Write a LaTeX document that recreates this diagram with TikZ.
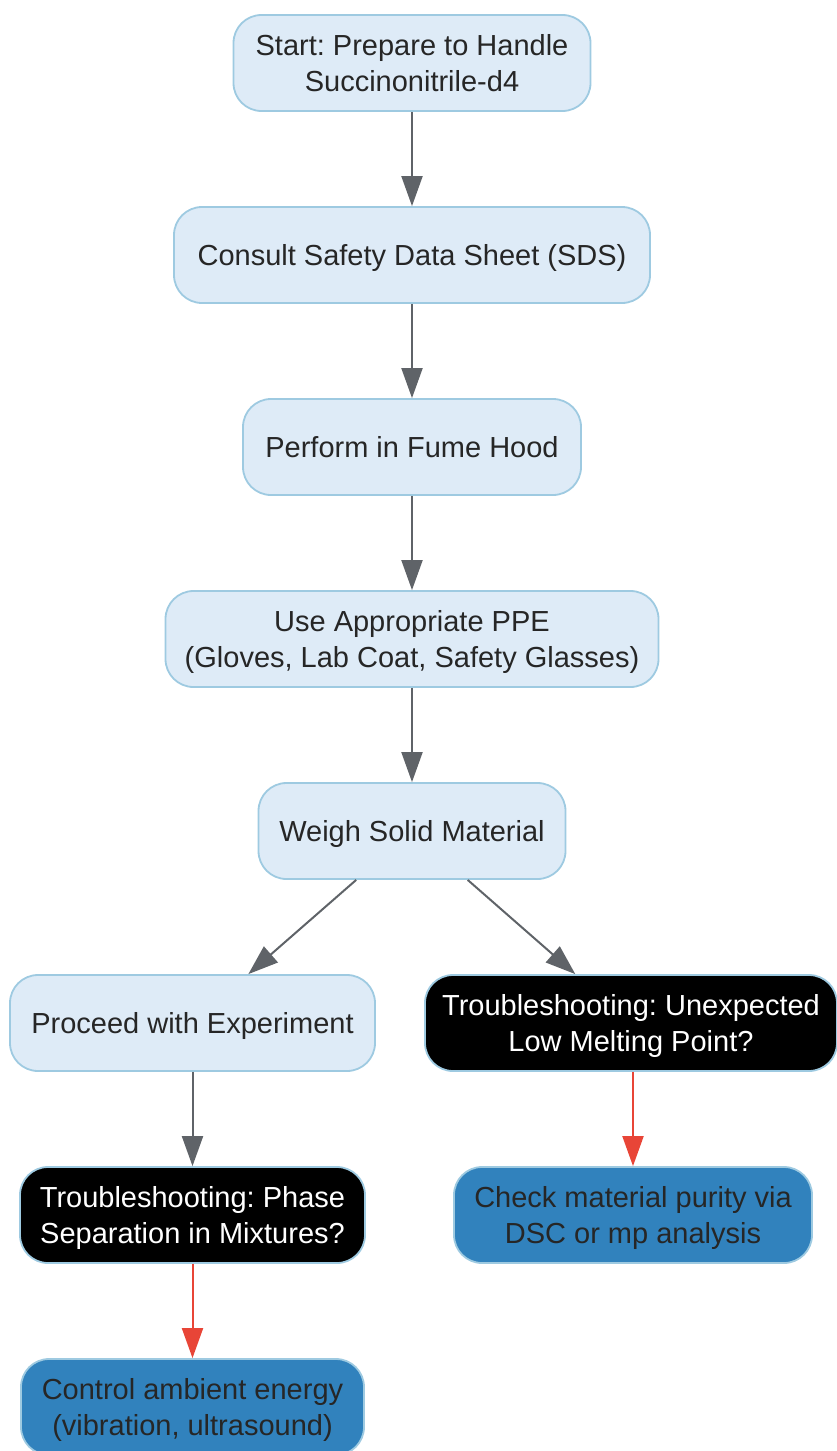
\documentclass[tikz,border=0pt]{standalone}
\usepackage{fontspec}
\setmainfont{Liberation Sans}
\usetikzlibrary{arrows.meta}
\definecolor{light}{RGB}{222, 235, 247}
\definecolor{rim}{RGB}{158, 202, 225}
\definecolor{dark}{RGB}{49, 130, 189}
\definecolor{link}{RGB}{95, 99, 104}
\definecolor{alert}{RGB}{232, 69, 55}
\frenchspacing

\begin{document}
\begin{tikzpicture}[x=1pt, y=-1pt,
    box/.style={draw=rim, line width=1.8pt, rounded corners=28pt,
      minimum height=96pt, inner sep=0pt, align=center, text depth=0pt,
      font=\fontsize{29}{36}\selectfont},
    stepbox/.style={box, fill=light, text=black!85},
    askbox/.style={box, fill=black, text=white},
    fixbox/.style={box, fill=dark, text=black!85},
    flow/.style={-{Triangle[length=30pt, width=21pt]}, line width=2pt, draw=link},
    fixflow/.style={flow, draw=alert}]
  \useasboundingbox (0, 0) rectangle (837, 1451);
  \clip (0, 0) rectangle (837, 1451);

  \node[stepbox, minimum width=357pt] (start) at (412, 63)
    {Start: Prepare to Handle\\Succinonitrile-d4};
  \node[stepbox, minimum width=476pt] (sds) at (412, 255)
    {Consult Safety Data Sheet (SDS)};
  \node[stepbox, minimum width=338pt] (hood) at (412, 447)
    {Perform in Fume Hood};
  \node[stepbox, minimum width=493pt] (ppe) at (412, 639)
    {Use Appropriate PPE\\(Gloves, Lab Coat, Safety Glasses)};
  \node[stepbox, minimum width=307pt] (weigh) at (412, 831)
    {Weigh Solid Material};

  \node[stepbox, minimum width=365pt] (proceed) at (192.5, 1023)
    {Proceed with Experiment};
  \node[askbox, minimum width=412pt] (melt) at (631, 1023)
    {Troubleshooting: Unexpected\\Low Melting Point?};

  \node[askbox, minimum width=345pt] (phase) at (192.5, 1215)
    {Troubleshooting: Phase\\Separation in Mixtures?};
  \node[fixbox, minimum width=358pt] (purity) at (633, 1215)
    {Check material purity via\\DSC or mp analysis};
  \node[fixbox, minimum width=343pt] (energy) at (192.5, 1407)
    {Control ambient energy\\(vibration, ultrasound)};

  \draw[flow] (start) -- (sds);
  \draw[flow] (sds) -- (hood);
  \draw[flow] (hood) -- (ppe);
  \draw[flow] (ppe) -- (weigh);
  \draw[flow] (weigh) -- (proceed);
  \draw[flow] (weigh) -- (melt);
  \draw[flow] (proceed) -- (phase);
  \draw[fixflow] (melt.south -| purity) -- (purity);
  \draw[fixflow] (phase) -- (energy);
\end{tikzpicture}
\end{document}
